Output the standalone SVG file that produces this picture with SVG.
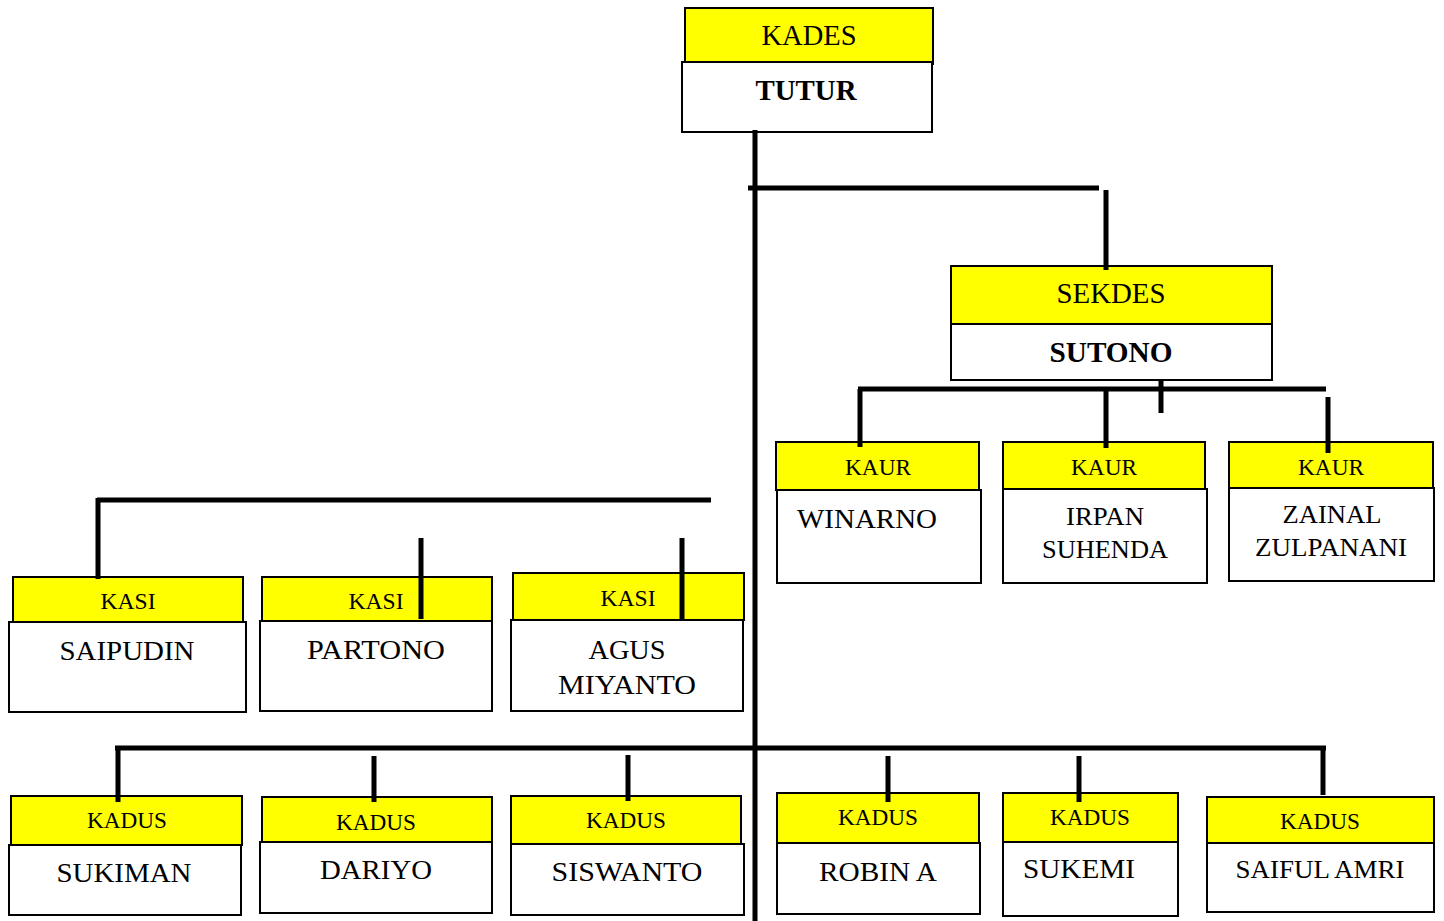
<svg xmlns="http://www.w3.org/2000/svg" width="1444" height="921" viewBox="0 0 1444 921">
<style>
.y{fill:#ffff00;stroke:#000;stroke-width:2}
.w{fill:#fff;stroke:#000;stroke-width:2}
.t{font-family:"Liberation Serif","Times New Roman",serif;fill:#000;text-anchor:middle}
.s{text-anchor:start}
.b{font-weight:bold}
.c line{stroke:#000;stroke-width:5}
</style>
<rect width="1444" height="921" fill="#fff"/>
<g id="kades">
<rect class="y" x="685" y="8" width="248" height="56"/>
<rect class="w" x="682" y="62" width="250" height="70"/>
<text class="t" x="809" y="45" font-size="29" textLength="95" lengthAdjust="spacingAndGlyphs">KADES</text>
<text class="t b" x="806" y="100" font-size="29" textLength="101" lengthAdjust="spacingAndGlyphs">TUTUR</text>
</g>
<g id="sekdes">
<rect class="y" x="951" y="266" width="321" height="58"/>
<rect class="w" x="951" y="324" width="321" height="56"/>
<text class="t" x="1111" y="303" font-size="29" textLength="109" lengthAdjust="spacingAndGlyphs">SEKDES</text>
<text class="t b" x="1111" y="362" font-size="29" textLength="123" lengthAdjust="spacingAndGlyphs">SUTONO</text>
</g>
<g id="kaur1">
<rect class="y" x="776" y="442" width="203" height="48"/>
<rect class="w" x="777" y="490" width="204" height="93"/>
<text class="t" x="878" y="475" font-size="23" textLength="66" lengthAdjust="spacingAndGlyphs">KAUR</text>
<text class="t s" x="797" y="528" font-size="27" textLength="140" lengthAdjust="spacingAndGlyphs">WINARNO</text>
</g>
<g id="kaur2">
<rect class="y" x="1003" y="442" width="202" height="47"/>
<rect class="w" x="1003" y="489" width="204" height="94"/>
<text class="t" x="1104" y="475" font-size="23" textLength="66" lengthAdjust="spacingAndGlyphs">KAUR</text>
<text class="t" x="1105" y="525" font-size="25" textLength="78" lengthAdjust="spacingAndGlyphs">IRPAN</text>
<text class="t" x="1105" y="558" font-size="25" textLength="126" lengthAdjust="spacingAndGlyphs">SUHENDA</text>
</g>
<g id="kaur3">
<rect class="y" x="1229" y="442" width="204" height="46"/>
<rect class="w" x="1229" y="488" width="205" height="93"/>
<text class="t" x="1331" y="475" font-size="23" textLength="66" lengthAdjust="spacingAndGlyphs">KAUR</text>
<text class="t" x="1332" y="523" font-size="25" textLength="99" lengthAdjust="spacingAndGlyphs">ZAINAL</text>
<text class="t" x="1331" y="556" font-size="25" textLength="152" lengthAdjust="spacingAndGlyphs">ZULPANANI</text>
</g>
<g id="kasi1">
<rect class="y" x="13" y="577" width="230" height="45"/>
<rect class="w" x="9" y="622" width="237" height="90"/>
<text class="t" x="128" y="609" font-size="23" textLength="55" lengthAdjust="spacingAndGlyphs">KASI</text>
<text class="t" x="127" y="660" font-size="27" textLength="135" lengthAdjust="spacingAndGlyphs">SAIPUDIN</text>
</g>
<g id="kasi2">
<rect class="y" x="262" y="577" width="230" height="44"/>
<rect class="w" x="260" y="621" width="232" height="90"/>
<text class="t" x="376" y="609" font-size="23" textLength="55" lengthAdjust="spacingAndGlyphs">KASI</text>
<text class="t" x="376" y="659" font-size="27" textLength="138" lengthAdjust="spacingAndGlyphs">PARTONO</text>
</g>
<g id="kasi3">
<rect class="y" x="513" y="573" width="231" height="47"/>
<rect class="w" x="511" y="620" width="232" height="91"/>
<text class="t" x="628" y="606" font-size="23" textLength="55" lengthAdjust="spacingAndGlyphs">KASI</text>
<text class="t" x="627" y="659" font-size="27" textLength="77" lengthAdjust="spacingAndGlyphs">AGUS</text>
<text class="t" x="627" y="694" font-size="27" textLength="138" lengthAdjust="spacingAndGlyphs">MIYANTO</text>
</g>
<g id="kadus1">
<rect class="y" x="11" y="796" width="231" height="49"/>
<rect class="w" x="9" y="845" width="232" height="70"/>
<text class="t" x="127" y="828" font-size="23" textLength="80" lengthAdjust="spacingAndGlyphs">KADUS</text>
<text class="t" x="124" y="882" font-size="27" textLength="135" lengthAdjust="spacingAndGlyphs">SUKIMAN</text>
</g>
<g id="kadus2">
<rect class="y" x="262" y="797" width="230" height="45"/>
<rect class="w" x="260" y="842" width="232" height="71"/>
<text class="t" x="376" y="830" font-size="23" textLength="80" lengthAdjust="spacingAndGlyphs">KADUS</text>
<text class="t" x="376" y="879" font-size="27" textLength="112" lengthAdjust="spacingAndGlyphs">DARIYO</text>
</g>
<g id="kadus3">
<rect class="y" x="511" y="796" width="230" height="48"/>
<rect class="w" x="511" y="844" width="233" height="71"/>
<text class="t" x="626" y="828" font-size="23" textLength="80" lengthAdjust="spacingAndGlyphs">KADUS</text>
<text class="t" x="627" y="881" font-size="27" textLength="151" lengthAdjust="spacingAndGlyphs">SISWANTO</text>
</g>
<g id="kadus4">
<rect class="y" x="777" y="793" width="202" height="50"/>
<rect class="w" x="777" y="843" width="203" height="71"/>
<text class="t" x="878" y="825" font-size="23" textLength="80" lengthAdjust="spacingAndGlyphs">KADUS</text>
<text class="t" x="878" y="881" font-size="27" textLength="118" lengthAdjust="spacingAndGlyphs">ROBIN A</text>
</g>
<g id="kadus5">
<rect class="y" x="1003" y="793" width="175" height="49"/>
<rect class="w" x="1003" y="842" width="175" height="74"/>
<text class="t" x="1090" y="825" font-size="23" textLength="80" lengthAdjust="spacingAndGlyphs">KADUS</text>
<text class="t s" x="1023" y="878" font-size="27" textLength="112" lengthAdjust="spacingAndGlyphs">SUKEMI</text>
</g>
<g id="kadus6">
<rect class="y" x="1207" y="797" width="227" height="46"/>
<rect class="w" x="1207" y="843" width="227" height="69"/>
<text class="t" x="1320" y="829" font-size="23" textLength="80" lengthAdjust="spacingAndGlyphs">KADUS</text>
<text class="t" x="1320" y="878" font-size="25" textLength="169" lengthAdjust="spacingAndGlyphs">SAIFUL AMRI</text>
</g>
<g id="connectors" class="c">
<line x1="755" y1="130" x2="755" y2="921"/>
<line x1="748" y1="188" x2="1099" y2="188"/>
<line x1="1106" y1="190" x2="1106" y2="270"/>
<line x1="858" y1="389" x2="1326" y2="389"/>
<line x1="1161" y1="381" x2="1161" y2="413"/>
<line x1="860" y1="389" x2="860" y2="447"/>
<line x1="1106" y1="389" x2="1106" y2="448"/>
<line x1="1328" y1="397" x2="1328" y2="453"/>
<line x1="97" y1="500" x2="711" y2="500"/>
<line x1="98" y1="498" x2="98" y2="579"/>
<line x1="421" y1="538" x2="421" y2="619"/>
<line x1="682" y1="538" x2="682" y2="619"/>
<line x1="115" y1="748" x2="1326" y2="748"/>
<line x1="118" y1="746" x2="118" y2="802"/>
<line x1="374" y1="756" x2="374" y2="802"/>
<line x1="628" y1="755" x2="628" y2="801"/>
<line x1="888" y1="756" x2="888" y2="802"/>
<line x1="1079" y1="756" x2="1079" y2="802"/>
<line x1="1323" y1="746" x2="1323" y2="795"/>
</g>
</svg>
